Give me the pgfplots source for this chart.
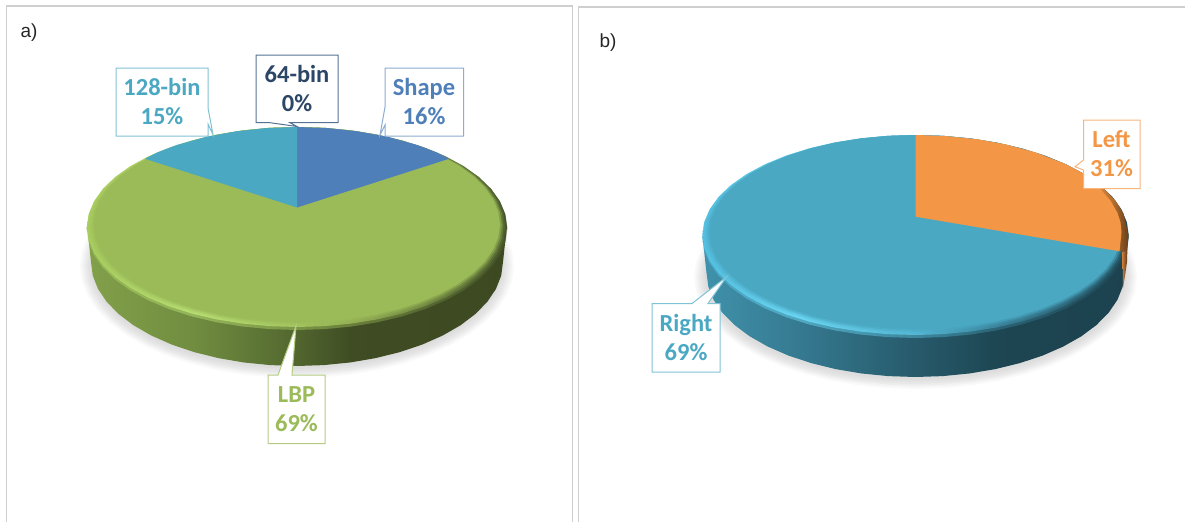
\documentclass[border=0pt]{standalone}
\usepackage{pgfplots}
\usepackage{pgfplotstable}
\usepackage{fontspec}
\pgfplotsset{compat=1.18}
\setmainfont{Carlito}
\newfontfamily\panelfont{Liberation Sans}

% Palette of the slices
\definecolor{cShape}{HTML}{4E7FB9}
\definecolor{cCoarse}{HTML}{4BA8C3}
\definecolor{cLBP}{HTML}{9BBB59}
\definecolor{cLeft}{HTML}{F39645}
\definecolor{cRight}{HTML}{4AA8C3}
\definecolor{cFrame}{HTML}{CFCFCF}

% Outer wall of the two discs, lit from the left
\pgfdeclarehorizontalshading{wallA}{100bp}{
  rgb(0bp)=(0.51,0.63,0.29);
  rgb(25bp)=(0.51,0.63,0.29);
  rgb(38bp)=(0.44,0.55,0.25);
  rgb(47bp)=(0.35,0.44,0.20);
  rgb(56.5bp)=(0.25,0.30,0.14);
  rgb(75bp)=(0.24,0.29,0.13);
  rgb(100bp)=(0.24,0.29,0.13)}
\pgfdeclarehorizontalshading{wallB}{100bp}{
  rgb(0bp)=(0.25,0.57,0.67);
  rgb(25bp)=(0.25,0.57,0.67);
  rgb(36bp)=(0.21,0.48,0.57);
  rgb(48bp)=(0.16,0.37,0.44);
  rgb(60bp)=(0.115,0.27,0.32);
  rgb(75bp)=(0.11,0.26,0.31);
  rgb(100bp)=(0.11,0.26,0.31)}
% Bevel on the rim of the top face
\pgfdeclarehorizontalshading{rimA}{100bp}{
  rgb(0bp)=(0.66,0.80,0.37);
  rgb(25bp)=(0.66,0.80,0.37);
  rgb(38bp)=(0.72,0.87,0.45);
  rgb(50bp)=(0.64,0.77,0.37);
  rgb(56.5bp)=(0.58,0.69,0.33);
  rgb(66bp)=(0.43,0.52,0.25);
  rgb(75bp)=(0.27,0.33,0.16);
  rgb(100bp)=(0.27,0.33,0.16)}
\pgfdeclarehorizontalshading{rimB}{100bp}{
  rgb(0bp)=(0.33,0.75,0.88);
  rgb(25bp)=(0.33,0.75,0.88);
  rgb(36bp)=(0.42,0.84,0.95);
  rgb(50bp)=(0.33,0.72,0.83);
  rgb(60bp)=(0.22,0.50,0.59);
  rgb(75bp)=(0.12,0.28,0.33);
  rgb(100bp)=(0.12,0.28,0.33)}
% Rim of the orange slice
\pgfdeclarehorizontalshading{rimLeft}{100bp}{
  rgb(0bp)=(0.95,0.59,0.27);
  rgb(62bp)=(0.95,0.59,0.27);
  rgb(70bp)=(0.70,0.43,0.18);
  rgb(75bp)=(0.40,0.25,0.10);
  rgb(100bp)=(0.40,0.25,0.10)}

% Unit circle, used for every full disc outline
\pgfplotstableread{
u v
1.0000 0.0000
0.9914 0.1305
0.9659 0.2588
0.9239 0.3827
0.8660 0.5000
0.7934 0.6088
0.7071 0.7071
0.6088 0.7934
0.5000 0.8660
0.3827 0.9239
0.2588 0.9659
0.1305 0.9914
0.0000 1.0000
-0.1305 0.9914
-0.2588 0.9659
-0.3827 0.9239
-0.5000 0.8660
-0.6088 0.7934
-0.7071 0.7071
-0.7934 0.6088
-0.8660 0.5000
-0.9239 0.3827
-0.9659 0.2588
-0.9914 0.1305
-1.0000 0.0000
-0.9914 -0.1305
-0.9659 -0.2588
-0.9239 -0.3827
-0.8660 -0.5000
-0.7934 -0.6088
-0.7071 -0.7071
-0.6088 -0.7934
-0.5000 -0.8660
-0.3827 -0.9239
-0.2588 -0.9659
-0.1305 -0.9914
0.0000 -1.0000
0.1305 -0.9914
0.2588 -0.9659
0.3827 -0.9239
0.5000 -0.8660
0.6088 -0.7934
0.7071 -0.7071
0.7934 -0.6088
0.8660 -0.5000
0.9239 -0.3827
0.9659 -0.2588
0.9914 -0.1305
}\unitcircle

% Lower half of the circle, extended upward so the wall meets the top face
\pgfplotstableread{
u v
1.0190 -0.3500
1.0000 0.0000
0.9914 0.1305
0.9659 0.2588
0.9239 0.3827
0.8660 0.5000
0.7934 0.6088
0.7071 0.7071
0.6088 0.7934
0.5000 0.8660
0.3827 0.9239
0.2588 0.9659
0.1305 0.9914
0.0000 1.0000
-0.1305 0.9914
-0.2588 0.9659
-0.3827 0.9239
-0.5000 0.8660
-0.6088 0.7934
-0.7071 0.7071
-0.7934 0.6088
-0.8660 0.5000
-0.9239 0.3827
-0.9659 0.2588
-0.9914 0.1305
-1.0000 0.0000
-1.0190 -0.3500
}\wallarc

% #1 style, #2 centre x, #3 half width, #4 centre y, #5 half height
\newcommand{\disc}[5]{\addplot[draw=none,#1] table[x expr=#2+#3*\thisrow{u}, y expr=#4+#5*\thisrow{v}] {\unitcircle};}
\newcommand{\wall}[5]{\addplot[draw=none,#1] table[x expr=#2+#3*\thisrow{u}, y expr=#4+#5*\thisrow{v}] {\wallarc};}

\begin{document}
\begin{tikzpicture}
\useasboundingbox (0,0) rectangle (1185pt,522pt);
\begin{axis}[
  at={(0,0)}, anchor=south west,
  scale only axis, width=1185pt, height=522pt,
  xmin=0, xmax=1185, ymin=0, ymax=522, y dir=reverse,
  hide axis, no markers,
  every axis plot/.append style={line join=miter},
]
% Panel frames
\addplot[cFrame, line width=1.4pt] coordinates {(6.5,522) (6.5,6) (572.5,6) (572.5,522)};
\addplot[cFrame, line width=1.4pt] coordinates {(578.5,522) (578.5,7) (1185,7)};

% ---- Panel a ----
% soft shadow beneath the disc
\disc{fill=black, fill opacity=.022}{297}{217}{266}{112}
\disc{fill=black, fill opacity=.022}{297}{215}{266}{110}
\disc{fill=black, fill opacity=.022}{297}{213}{266}{108.5}
\disc{fill=black, fill opacity=.022}{297}{211}{266}{107}
\disc{fill=black, fill opacity=.022}{297}{209}{265}{106}
\disc{fill=black, fill opacity=.022}{297}{207}{264}{105}
\wall{shade, shading=wallA}{297}{206}{262}{104}
\disc{shade, shading=rimA, opacity=.5}{297}{210.5}{228.5}{101.5}
\disc{shade, shading=rimA}{297}{210}{227}{100}
\disc{fill=cLBP, fill opacity=.15}{297}{208.3}{226.4}{99.4}
\disc{fill=cLBP, fill opacity=.3}{297}{206.5}{225.8}{98.8}
\disc{fill=cLBP, fill opacity=.55}{297}{204.8}{225.1}{98.1}
\disc{fill=cLBP}{297}{203}{224.5}{97.5}
% Shape 16 %
\addplot[draw=none, fill=cShape] coordinates {(297,207.5) (297,127) (327,128) (357,131.2) (387,136.6) (417,144.9) (437,152.5) (449,158.8)} --cycle;
% 128-bin 15 %
\addplot[draw=none, fill=cCoarse] coordinates {(297,207.5) (297,127) (267,128) (237,131.2) (207,136.6) (177,144.9) (157,152.5) (145,158.8)} --cycle;

% ---- Panel b ----
\disc{fill=black, fill opacity=.022}{915.5}{221.5}{277}{112}
\disc{fill=black, fill opacity=.022}{915.5}{219.5}{277}{110}
\disc{fill=black, fill opacity=.022}{915.5}{217.5}{277}{108.5}
\disc{fill=black, fill opacity=.022}{915.5}{215.5}{277}{107}
\disc{fill=black, fill opacity=.022}{915.5}{213.5}{276}{106}
\disc{fill=black, fill opacity=.022}{915.5}{211.5}{275}{105}
\wall{shade, shading=wallB}{915.5}{209}{273}{104}
\disc{shade, shading=rimB, opacity=.5}{915.5}{213.5}{236.5}{101.5}
\disc{shade, shading=rimB}{915.5}{213}{235}{100}
\disc{fill=cRight, fill opacity=.15}{915.5}{211.3}{234.3}{99.3}
\disc{fill=cRight, fill opacity=.3}{915.5}{209.5}{233.5}{98.5}
\disc{fill=cRight, fill opacity=.55}{915.5}{207.8}{232.8}{97.8}
\disc{fill=cRight}{915.5}{206}{232}{97}
% orange part of the wall and rim on the far right
\addplot[draw=none, left color=cLeft!80!black, right color=cLeft!35!black] coordinates {(1122.5,252) (1127.5,245) (1127,262) (1125,276) (1123,288)} --cycle;
\addplot[draw=none, shade, shading=rimLeft] coordinates {(975.5,139) (1005.5,144.4) (1035.5,152.4) (1065.5,164) (1085.5,174.7) (1100.5,185.4) (1115.5,200.6) (1123.5,213.5) (1128.5,235) (1127.5,244.7) (1125.5,251.7) (1119,251)} --cycle;
% Left 31 %
\addplot[draw=none, fill=cLeft] coordinates {(915.5,216.7) (915.5,135) (945.5,136) (975.5,139.1) (1005.5,144.7) (1035.5,153.2) (1065.5,165.5) (1085.5,177.2) (1100.5,189.3) (1110.5,200.7) (1117.5,213) (1120.5,222.4) (1121.5,232) (1120.5,241.6) (1119.5,251.3)} --cycle;

% ---- Callouts ----
\addplot[draw=cCoarse!70!white, fill=white, line width=1pt] coordinates {(116,68) (208,68) (208,108) (213,134.5) (208,124) (208,136) (116,136)} --cycle;
\addplot[draw=cShape!70!black!85!white, fill=white, line width=1pt] coordinates {(256,55) (338,55) (338,122.7) (290,122.7) (297,126.5) (270,122.7) (256,122.7)} --cycle;
\addplot[draw=cShape!65!white, fill=white, line width=1pt] coordinates {(385,68) (463.5,68) (463.5,136) (385,136) (385,125) (380,135) (385,107)} --cycle;
\addplot[draw=cLBP!75!white, fill=white, line width=1pt] coordinates {(268,375) (278,375) (296,326) (292,375) (325,375) (325,443.5) (268,443.5)} --cycle;
\addplot[draw=cLeft!70!white, fill=white, line width=1pt] coordinates {(1083.5,120) (1140,120) (1140,188.5) (1083.5,188.5) (1083.5,170) (1075,166.7) (1083.5,160)} --cycle;
\addplot[draw=cRight!70!white, fill=white, line width=1pt] coordinates {(652,303.5) (692,303.5) (726.7,276.7) (708,303.5) (720,303.5) (720,372) (652,372)} --cycle;

% Callout texts
\node[font=\fontsize{24.5}{29}\selectfont\bfseries, text=cCoarse, align=center] at (axis cs:162,102) {128-bin\\15\%};
\node[font=\fontsize{24.5}{29}\selectfont\bfseries, text=cShape!55!black, align=center] at (axis cs:297,89) {64-bin\\0\%};
\node[font=\fontsize{24.5}{29}\selectfont\bfseries, text=cShape, align=center] at (axis cs:424,102) {Shape\\16\%};
\node[font=\fontsize{24.5}{29}\selectfont\bfseries, text=cLBP, align=center] at (axis cs:296.5,409) {LBP\\69\%};
\node[font=\fontsize{24.5}{29}\selectfont\bfseries, text=cLeft, align=center] at (axis cs:1111.5,154) {Left\\31\%};
\node[font=\fontsize{24.5}{29}\selectfont\bfseries, text=cRight, align=center] at (axis cs:686,338) {Right\\69\%};

% Panel letters
\node[font=\fontsize{19}{21}\panelfont, text=black!85] at (axis cs:29,33) {a)};
\node[font=\fontsize{19}{21}\panelfont, text=black!85] at (axis cs:608,43) {b)};
\end{axis}
\end{tikzpicture}
\end{document}
